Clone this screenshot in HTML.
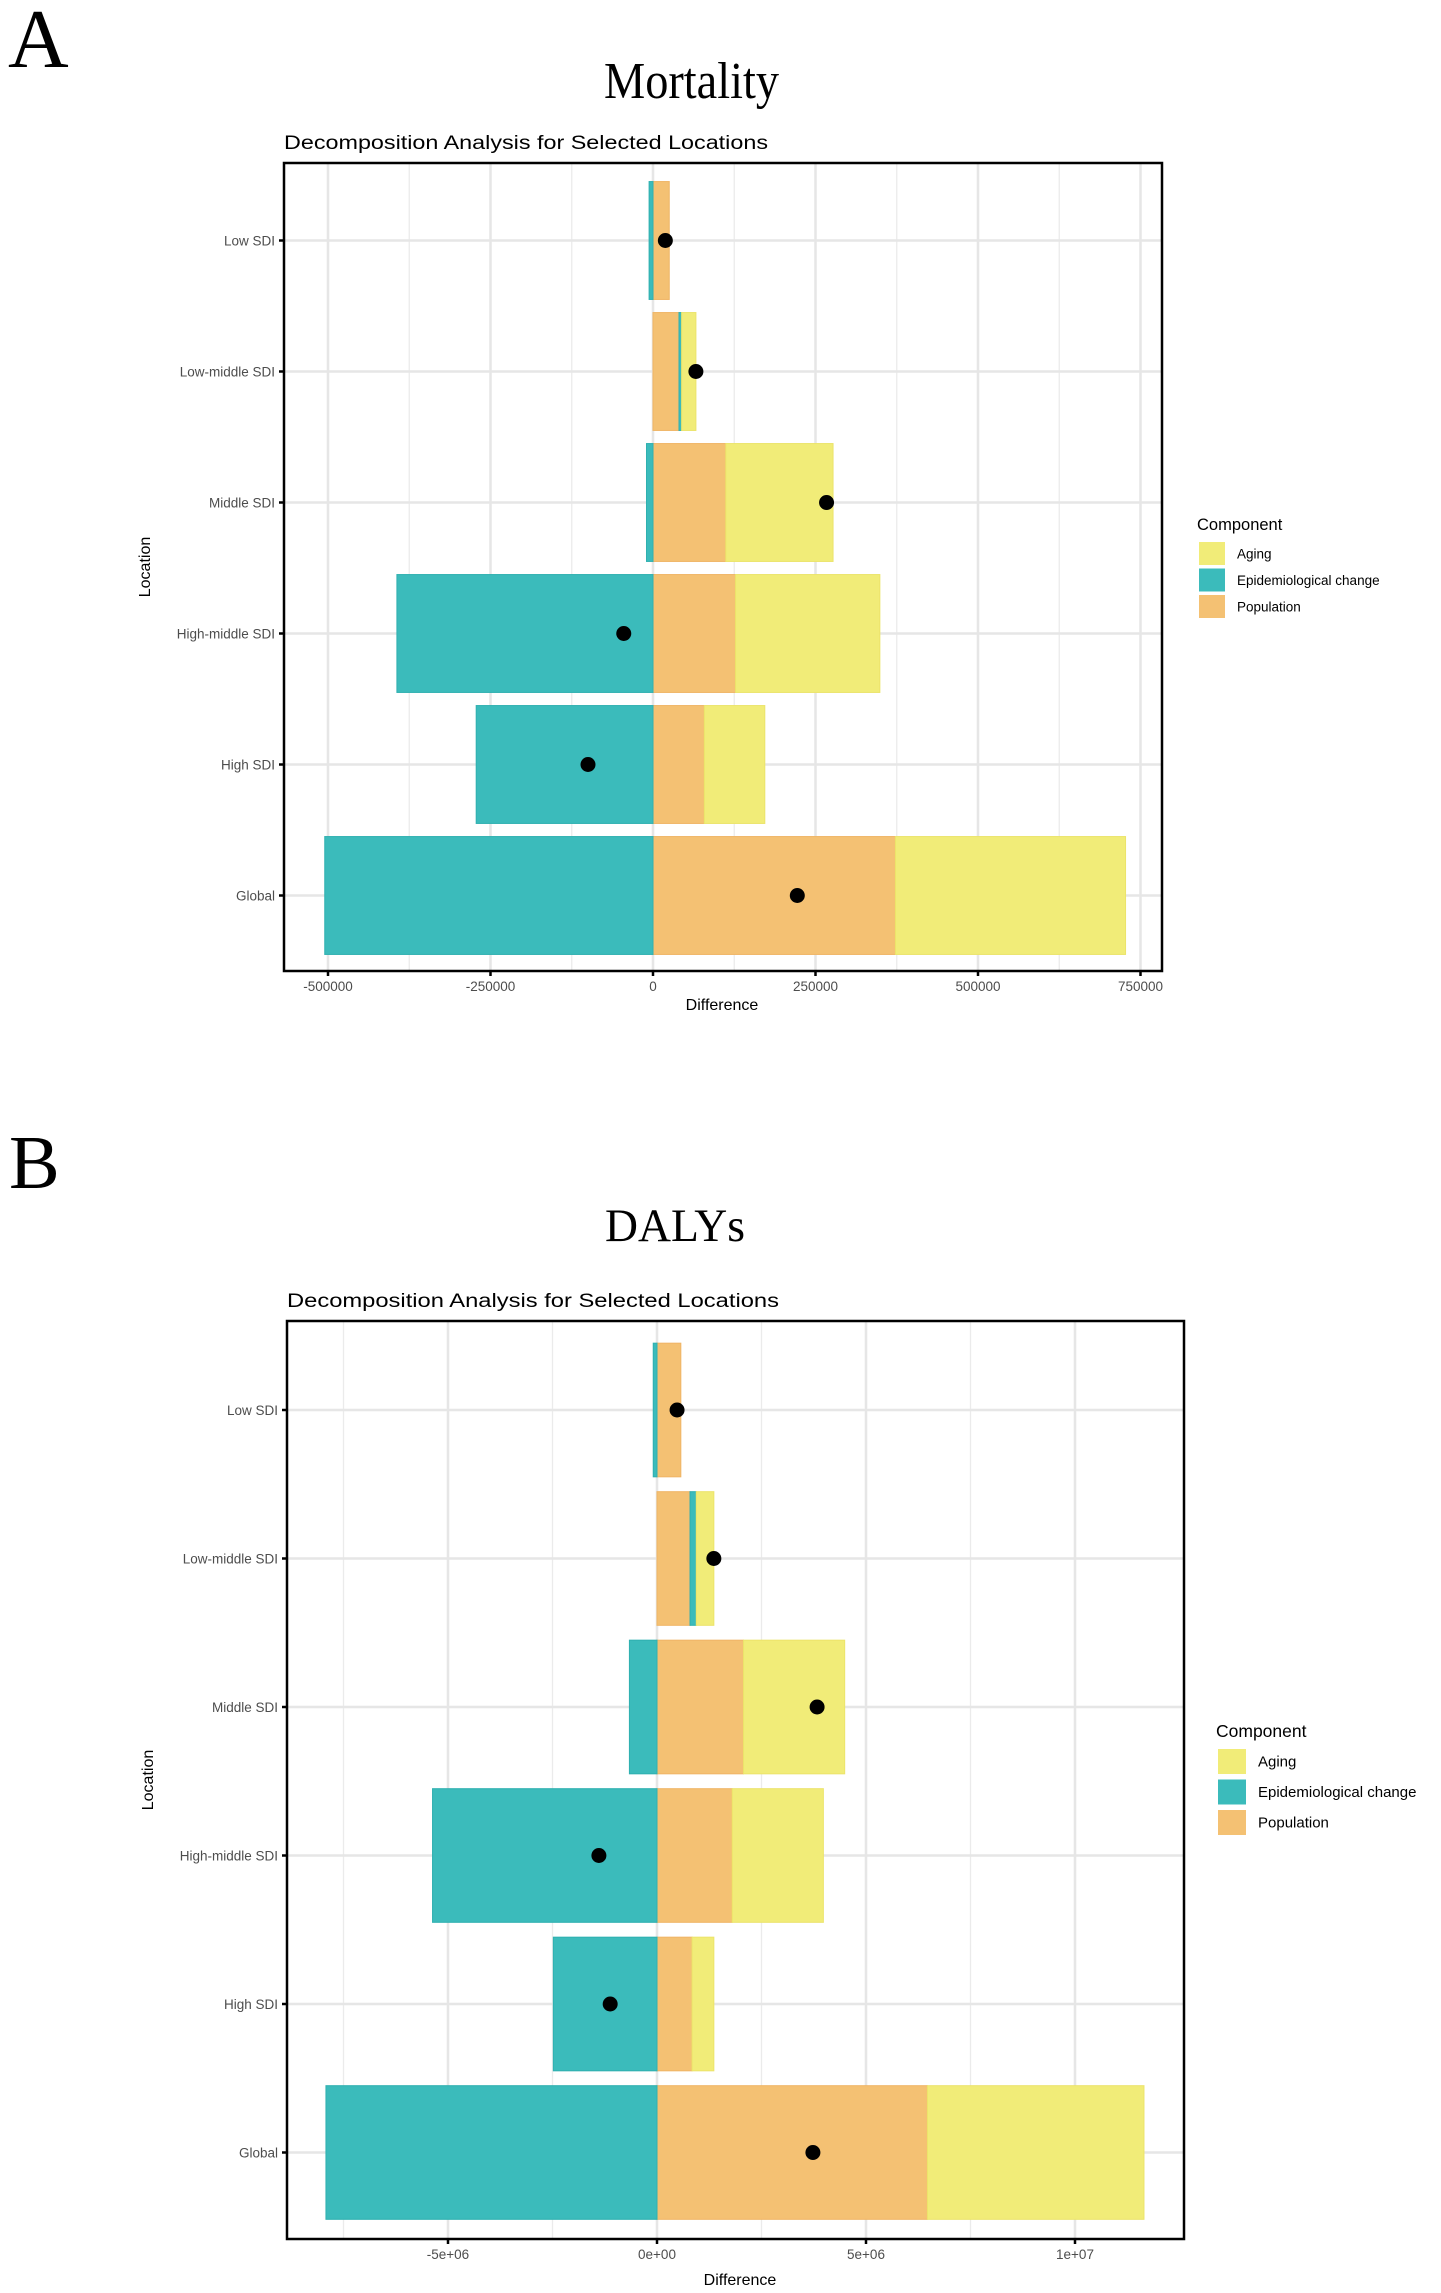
<!DOCTYPE html>
<html><head><meta charset="utf-8"><style>
html,body{margin:0;padding:0;background:#fff;}
svg{display:block;font-family:"Liberation Sans",sans-serif;}
</style></head><body>
<svg id="fig" width="1441" height="2293" viewBox="0 0 1441 2293" xmlns="http://www.w3.org/2000/svg"></svg>
<script>
// Shared
const categories = ["Low SDI","Low-middle SDI","Middle SDI","High-middle SDI","High SDI","Global"];
// Panel A (Mortality)
const mortPopulation = [25000, 40000, 112000, 127000, 79000, 373000];
const mortEpi = [-6000, 4000, -10000, -394000, -272000, -505000];
const mortAging = [0, 22000, 165000, 222000, 93000, 354000];
const mortTicks = [-500000, -250000, 0, 250000, 500000, 750000];
const mortTickLabels = ["-500000","-250000","0","250000","500000","750000"];
// Panel B (DALYs)
const dalyPopulation = [570000, 790000, 2070000, 1800000, 840000, 6470000];
const dalyEpi = [-90000, 150000, -660000, -5370000, -2480000, -7920000];
const dalyAging = [0, 420000, 2420000, 2180000, 520000, 5180000];
const dalyTicks = [-5000000, 0, 5000000, 10000000];
const dalyTickLabels = ["-5e+06","0e+00","5e+06","1e+07"];

const NS = "http://www.w3.org/2000/svg";
const svg = document.getElementById('fig');
function mk(tag, attrs, parent, text){
  const e = document.createElementNS(NS, tag);
  for (const k in attrs) e.setAttribute(k, attrs[k]);
  if (text !== undefined) e.textContent = text;
  (parent||svg).appendChild(e);
  return e;
}
const COL = {aging:"#f1ec78", epi:"#3bbbbb", pop:"#f4c173"};
const STROKE = {aging:"#ece46a", epi:"#2fb0b0", pop:"#efb565"};

function panel(c){
  const g = mk('g', {});
  
  
  const X = v => c.x0 + v * c.pxPerUnit;
  const Y = i => c.yFirst + i * c.ySpace;
  const bh = c.ySpace * 0.9;
  let t = mk('text', {x:c.letterX, y:c.letterY, 'font-family':'"Liberation Serif",serif', 'font-size':c.letterSize, fill:'#000'}, g, c.letter);
  
  
  t = mk('text', {x:c.titleX, y:c.titleY, 'font-family':'"Liberation Serif",serif', 'font-size':c.titleSize, textLength:c.titleLen, lengthAdjust:'spacingAndGlyphs', fill:'#000'}, g, c.title);
  
  
  t = mk('text', {x:c.subX, y:c.subY, 'font-size':19, textLength:c.subLen, lengthAdjust:'spacingAndGlyphs', fill:'#000'}, g, "Decomposition Analysis for Selected Locations");
  
  
  c.minor.forEach(v=>{
    const l = mk('line', {x1:X(v), x2:X(v), y1:c.top, y2:c.bottom, stroke:'#ebebeb', 'stroke-width':1.3}, g);
    
    
  });
  c.ticks.forEach(v=>{
    const l = mk('line', {x1:X(v), x2:X(v), y1:c.top, y2:c.bottom, stroke:'#e6e6e6', 'stroke-width':2.5}, g);
    
    
  });
  categories.forEach((cat,i)=>{
    const l = mk('line', {x1:c.left, x2:c.right, y1:Y(i), y2:Y(i), stroke:'#e6e6e6', 'stroke-width':2.5}, g);
    
    
  });
  categories.forEach((cat,i)=>{
    const y = Y(i) - bh/2;
    let pos = 0, neg = 0;
    const segs = [['pop', c.pop[i]], ['epi', c.epi[i]], ['aging', c.aging[i]]];
    segs.forEach(([k,v])=>{
      if (!v) return;
      let a, b;
      if (v >= 0){ a = pos; b = pos + v; pos = b; } else { a = neg + v; b = neg; neg = a; }
      const r = mk('rect', {x:X(a), y:y, width:Math.max(1, X(b)-X(a)), height:bh, fill:COL[k], stroke:STROKE[k], 'stroke-width':1}, g);
      
      
    });
  });
  categories.forEach((cat,i)=>{
    const net = c.pop[i] + c.epi[i] + c.aging[i];
    const d = mk('circle', {cx:X(net), cy:Y(i), r:7.5, fill:'#000'}, g);
    
    
  });
  const box = mk('rect', {x:c.left, y:c.top, width:c.right-c.left, height:c.bottom-c.top, fill:'none', stroke:'#000', 'stroke-width':2.5}, g);
  
  
  categories.forEach((cat,i)=>{
    const tk = mk('line', {x1:c.left-5, x2:c.left, y1:Y(i), y2:Y(i), stroke:'#000', 'stroke-width':2.5}, g);
    
    
    const tx = mk('text', {x:c.left-9, y:Y(i)+5, 'font-size':13.5, fill:'#4d4d4d', 'text-anchor':'end'}, g, cat);
    
    
  });
  c.ticks.forEach((v,j)=>{
    const tk = mk('line', {x1:X(v), x2:X(v), y1:c.bottom, y2:c.bottom+5, stroke:'#000', 'stroke-width':2.5}, g);
    
    
    const tx = mk('text', {x:X(v), y:c.bottom+20, 'font-size':13.5, fill:'#4d4d4d', 'text-anchor':'middle'}, g, c.tickLabels[j]);
    
    
  });
  t = mk('text', {x:c.xTitleX, y:c.xTitleY, 'font-size':16, fill:'#000', 'text-anchor':'middle'}, g, "Difference");
  
  
  t = mk('text', {x:0, y:0, 'font-size':16, fill:'#000', 'text-anchor':'middle', transform:`translate(${c.left-134},${(c.top+c.bottom)/2}) rotate(-90)`}, g, "Location");
  
  
  t = mk('text', {x:c.legX-2, y:c.legY, 'font-size':c.legTitleSize, fill:'#000'}, g, "Component");
  
  
  const items = [['aging','Aging'],['epi','Epidemiological change'],['pop','Population']];
  items.forEach(([k,lab],j)=>{
    const ky = c.legY + 12 + j*c.legStep;
    const r = mk('rect', {x:c.legX, y:ky, width:c.keyW, height:c.keyH, fill:COL[k]}, g);
    
    
    const tx = mk('text', {x:c.legX + c.keyW + 12, y:ky + c.keyH/2 + 5, 'font-size':c.legSize, fill:'#000'}, g, lab);
    
    
  });
}

panel({id:'mortality', letter:'A', letterX:8, letterY:67, letterSize:84,
  title:'Mortality', titleX:604, titleY:98, titleSize:52, titleLen:175,
  subX:284, subY:149, subLen:484,
  left:284, right:1162, top:163, bottom:971, x0:653, pxPerUnit:162.5/250000,
  yFirst:240.5, ySpace:131,
  pop:mortPopulation, epi:mortEpi, aging:mortAging,
  ticks:mortTicks, tickLabels:mortTickLabels, minor:[-375000,-125000,125000,375000,625000],
  xTitleX:722, xTitleY:1010,
  legX:1199, legY:530, legTitleSize:16.5, legStep:26.5, keyW:26, keyH:23, legSize:13.5});

panel({id:'dalys', letter:'B', letterX:9, letterY:1188, letterSize:76,
  title:'DALYs', titleX:605, titleY:1241, titleSize:47, titleLen:140,
  subX:287, subY:1307, subLen:492,
  left:287, right:1184, top:1321, bottom:2239, x0:657, pxPerUnit:209/5000000,
  yFirst:1410, ySpace:148.5,
  pop:dalyPopulation, epi:dalyEpi, aging:dalyAging,
  ticks:dalyTicks, tickLabels:dalyTickLabels, minor:[-7500000,-2500000,2500000,7500000],
  xTitleX:740, xTitleY:2285,
  legX:1218, legY:1737, legTitleSize:17.5, legStep:30.5, keyW:28, keyH:25, legSize:15});
</script>
</body></html>
